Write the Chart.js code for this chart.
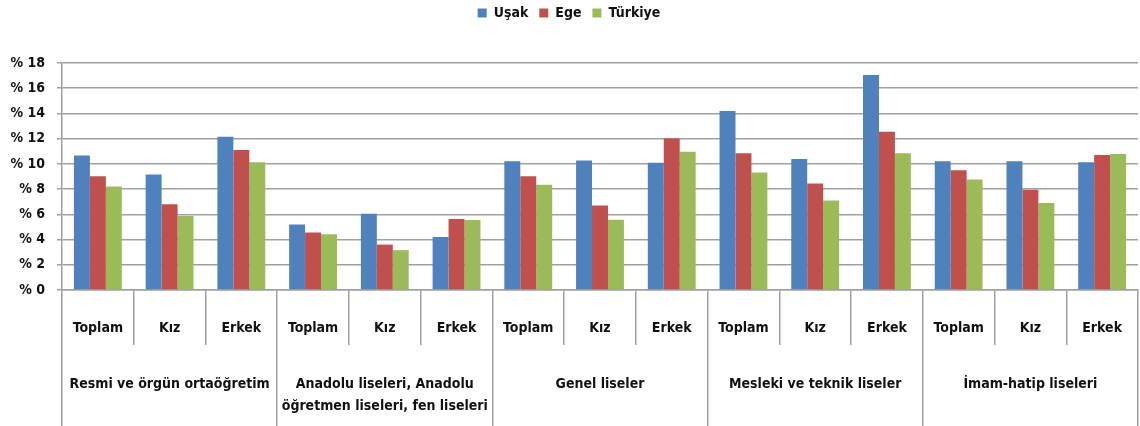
<!DOCTYPE html>
<html>
<head>
<meta charset="utf-8">
<script src="https://cdn.jsdelivr.net/npm/chart.js@4/dist/chart.umd.min.js"></script>
<style>
  html, body { margin: 0; padding: 0; background: #fff; }
  #wrap { width: 1140px; height: 426px; }
</style>
</head>
<body>
<div id="wrap"><canvas id="schoolChart"></canvas></div>
<script>
const subLabels = ['Toplam', 'Kız', 'Erkek', 'Toplam', 'Kız', 'Erkek', 'Toplam', 'Kız', 'Erkek',
    'Toplam', 'Kız', 'Erkek', 'Toplam', 'Kız', 'Erkek'];
const groupLabels = [
    'Resmi ve örgün ortaöğretim',
    ['Anadolu liseleri, Anadolu', 'öğretmen liseleri, fen liseleri'],
    'Genel liseler',
    'Mesleki ve teknik liseler',
    'İmam-hatip liseleri'
];
const usak = [10.66, 9.15, 12.15, 5.2, 6.05, 4.2, 10.2, 10.26, 10.1, 14.2, 10.39, 17.05, 10.2, 10.2, 10.13];
const ege = [9.02, 6.8, 11.1, 4.55, 3.6, 5.63, 9.02, 6.7, 12.02, 10.84, 8.44, 12.55, 9.5, 7.95, 10.7];
const turkiye = [8.2, 5.87, 10.13, 4.42, 3.16, 5.55, 8.34, 5.58, 10.97, 9.31, 7.1, 10.84, 8.76, 6.9, 10.79];
const yTicks = [0, 2, 4, 6, 8, 10, 12, 14, 16, 18];

const FONT = "'DejaVu Sans Condensed', 'DejaVu Sans', sans-serif";
const GRID = '#a0a0a0';

// push the plot down below the legend
const legendGap = {
    id: 'legendGap',
    beforeInit(chart) {
        const origFit = chart.legend.fit;
        chart.legend.fit = function () {
            origFit.bind(chart.legend)();
            this.height += 33;
        };
    }
};

const ctx = document.getElementById('schoolChart').getContext('2d');
new Chart(ctx, {
    type: 'bar',
    data: {
        labels: subLabels,
        datasets: [
            { label: 'Uşak', data: usak, backgroundColor: '#4f81bd' },
            { label: 'Ege', data: ege, backgroundColor: '#c0504d' },
            { label: 'Türkiye', data: turkiye, backgroundColor: '#9bbb59' }
        ]
    },
    options: {
        responsive: true,
        maintainAspectRatio: false,
        animation: false,
        layout: { padding: { top: -5, right: 2, left: 0, bottom: 0 } },
        datasets: { bar: { categoryPercentage: 0.667, barPercentage: 1.0 } },
        plugins: {
            legend: {
                position: 'top',
                labels: {
                    boxWidth: 9, boxHeight: 9, padding: 11,
                    color: '#111',
                    font: { family: FONT, size: 14, weight: 'bold' }
                }
            },
            tooltip: { enabled: false }
        },
        scales: {
            y: {
                min: 0, max: 18,
                afterFit: s => { s.width = 62; },
                afterBuildTicks: s => { s.ticks = yTicks.map(v => ({ value: v })); },
                grid: { color: GRID, lineWidth: 1.5, tickLength: 5 },
                border: { color: GRID, width: 1.5 },
                ticks: {
                    padding: 12, color: '#111',
                    font: { family: FONT, size: 14, weight: 'bold' },
                    callback: v => '% ' + v
                }
            },
            x: {
                weight: 0,
                afterFit: s => { s.height = 55; },
                grid: { drawOnChartArea: false, offset: true, tickLength: 55, color: GRID, lineWidth: 1.5 },
                border: { color: GRID, width: 1.5 },
                ticks: {
                    padding: -25, color: '#111', maxRotation: 0, autoSkip: false,
                    font: { family: FONT, size: 14, weight: 'bold' }
                }
            },
            group: {
                type: 'category',
                position: 'bottom',
                weight: 1,
                labels: groupLabels,
                offset: true,
                afterFit: s => { s.height = 81; },
                grid: { drawOnChartArea: false, offset: true, tickLength: 81, color: GRID, lineWidth: 1.5 },
                border: { display: false },
                ticks: {
                    padding: -52, color: '#111', maxRotation: 0, autoSkip: false,
                    font: { family: FONT, size: 14, weight: 'bold', lineHeight: 1.55 }
                }
            }
        }
    },
    plugins: [legendGap]
});
</script>
</body>
</html>
